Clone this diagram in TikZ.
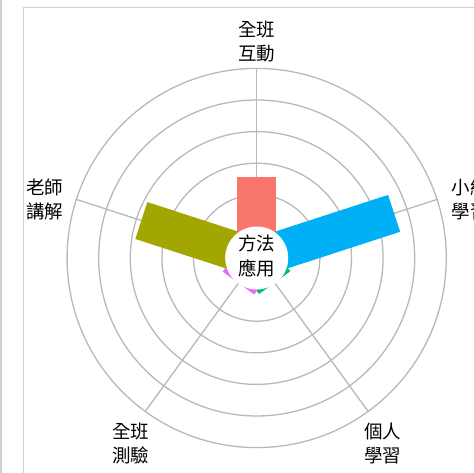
\documentclass[tikz,border=0pt]{standalone}
\usepackage{fontspec}
\usepackage{color}
\usepackage{tikz}
\setmainfont{Noto Sans CJK TC}

\definecolor{barred}{HTML}{F8766D}
\definecolor{barolive}{HTML}{A3A500}
\definecolor{bargreen}{HTML}{00BF7D}
\definecolor{barblue}{HTML}{00B0F6}
\definecolor{barpink}{HTML}{E76BF3}
\definecolor{gridgray}{HTML}{B8B8B8}
\definecolor{framegray}{HTML}{D0D0D0}

\begin{document}
\begin{tikzpicture}[x=1pt,y=1pt,line width=1.3pt,
                    lbl/.style={font=\fontsize{18.5}{24.5}\selectfont,align=center,inner sep=0pt},
                    ring/.style={draw=gridgray}]
  \useasboundingbox (-256.7,-214) rectangle (217.3,258);

  % frame
  \draw[framegray] (-255.7,-220) -- (-255.7,265);
  \draw[framegray] (-233.4,-230) rectangle (230,250.7);

  \draw[ring] (0,0) circle (63.2);
  \draw[ring] (0,0) circle (94.8);
  \draw[ring] (0,0) circle (126.4);
  \draw[ring] (0,0) circle (158);
  \draw[ring] (0,0) circle (189.6);

  \draw[ring] (0,0) -- (90:189.6);
  \draw[ring] (0,0) -- (18:189.6);
  \draw[ring] (0,0) -- (-54:189.6);
  \draw[ring] (0,0) -- (-126:189.6);
  \draw[ring] (0,0) -- (162:189.6);

  \fill[barred]              (-19.4,0) rectangle (19.4,80.7);
  \fill[barblue, rotate=-72] (-19.4,0) rectangle (19.4,144.5);
  \fill[bargreen,rotate=-144](-19.4,0) rectangle (19.4,30.5);
  \fill[barpink, rotate=144] (-19.4,0) rectangle (19.4,31);
  \fill[barolive,rotate=72]  (-19.4,0) rectangle (19.4,121.3);

  \node[circle,fill=white,minimum size=63pt,inner sep=0pt] (H) at (0,0) {};
  \node[lbl] (C)  at (0,2)          {方法\\應用};

  \node[lbl] (T)  at (0,216.5)      {全班\\互動};
  \node[lbl] (R)  at (213.3,58.5)   {小組\\學習};
  \node[lbl] (BR) at (126,-185.3)   {個人\\學習};
  \node[lbl] (BL) at (-125.7,-185.3){全班\\測驗};
  \node[lbl] (L)  at (-211.7,58.5)  {老師\\講解};
\end{tikzpicture}
\end{document}
